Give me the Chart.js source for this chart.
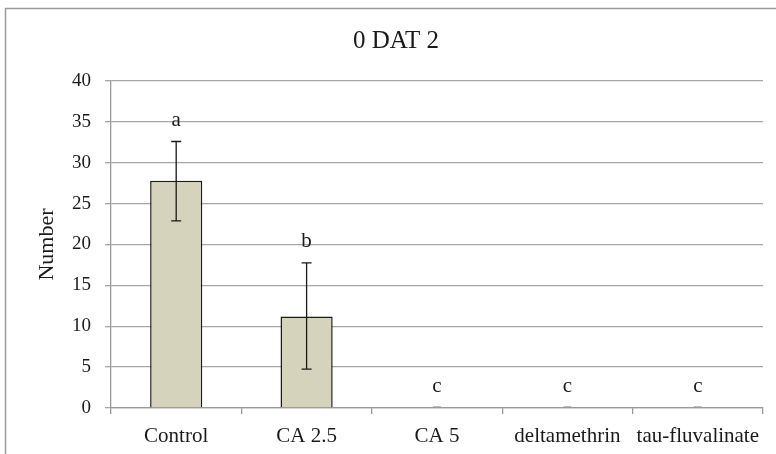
<!DOCTYPE html>
<html>
<head>
<meta charset="utf-8">
<script src="https://cdn.jsdelivr.net/npm/chart.js@4"></script>
<style>
  html, body { margin: 0; padding: 0; background: #fff; }
  #wrap { width: 776px; height: 454px; }
</style>
</head>
<body>
<div id="wrap"><canvas id="chart"></canvas></div>
<script>
const categories = ["Control", "CA 2.5", "CA 5", "deltamethrin", "tau-fluvalinate"];
const means = [27.8, 11.2, 0, 0, 0];
const errLow = [22.9, 4.75, 0, 0, 0];
const errHigh = [32.6, 17.75, 0, 0, 0];
const letters = ["a", "b", "c", "c", "c"];

const serif = "'Liberation Serif', 'Times New Roman', serif";

// grey frame round the chart, cut off at the right and bottom like the original
const framePlugin = {
  id: "frame",
  beforeDraw(chart) {
    const ctx = chart.ctx;
    ctx.save();
    ctx.strokeStyle = "#9a9a9a";
    ctx.lineWidth = 1.5;
    ctx.beginPath();
    ctx.moveTo(5.5, chart.height + 2);
    ctx.lineTo(5.5, 8.5);
    ctx.lineTo(chart.width + 2, 8.5);
    ctx.stroke();
    ctx.restore();
  }
};

// error bars and significance letters
const errorPlugin = {
  id: "errors",
  afterDatasetsDraw(chart) {
    const ctx = chart.ctx;
    const x = chart.scales.x;
    const y = chart.scales.y;
    ctx.save();
    ctx.strokeStyle = "#1a1a1a";
    ctx.lineWidth = 1.3;
    categories.forEach((c, i) => {
      const cx = x.getPixelForValue(i);
      const top = y.getPixelForValue(errHigh[i]);
      const bot = y.getPixelForValue(errLow[i]);
      if (errHigh[i] > errLow[i]) {
        ctx.beginPath();
        ctx.moveTo(cx, top); ctx.lineTo(cx, bot);
        ctx.moveTo(cx - 5, top); ctx.lineTo(cx + 5, top);
        ctx.moveTo(cx - 5, bot); ctx.lineTo(cx + 5, bot);
        ctx.stroke();
      } else {
        // zero bar shows as a short grey dash on the axis
        ctx.save();
        ctx.strokeStyle = "#9a9a9a";
        ctx.beginPath();
        ctx.moveTo(cx - 4, bot - 1); ctx.lineTo(cx + 4, bot - 1);
        ctx.stroke();
        ctx.restore();
      }
      ctx.fillStyle = "#1a1a1a";
      ctx.font = "21px " + serif;
      ctx.textAlign = "center";
      ctx.textBaseline = "bottom";
      ctx.fillText(letters[i], cx, top - 11);
    });
    ctx.restore();
  }
};

new Chart(document.getElementById("chart"), {
  type: "bar",
  data: {
    labels: categories,
    datasets: [{
      data: means,
      backgroundColor: "#d6d3bd",
      borderColor: "#1a1a1a",
      borderWidth: 1.5,
      categoryPercentage: 1,
      barPercentage: 0.4
    }]
  },
  options: {
    responsive: true,
    maintainAspectRatio: false,
    animation: false,
    layout: { padding: { left: 29, right: 13, top: 0, bottom: 0 } },
    plugins: {
      legend: { display: false },
      tooltip: { enabled: false },
      title: {
        display: true,
        text: "0 DAT 2",
        color: "#1a1a1a",
        font: { family: serif, size: 25, weight: "normal" },
        padding: { top: 26, bottom: 25 }
      }
    },
    scales: {
      x: {
        afterFit(scale) { scale.height = 46; },
        grid: {
          offset: true,
          drawOnChartArea: false,
          drawTicks: true,
          tickLength: 6,
          color: "#9a9a9a",
          lineWidth: 1.3
        },
        border: { color: "#9a9a9a", width: 1.3 },
        ticks: {
          color: "#1a1a1a",
          font: { family: serif, size: 21 },
          padding: 10,
          maxRotation: 0,
          autoSkip: false
        }
      },
      y: {
        min: 0,
        max: 40,
        afterFit(scale) { scale.width = 82; },
        grid: {
          color: "#a6a6a6",
          lineWidth: 1.3,
          tickLength: 6
        },
        border: { color: "#9a9a9a", width: 1.3 },
        ticks: {
          stepSize: 5,
          color: "#1a1a1a",
          font: { family: serif, size: 19 },
          padding: 14
        },
        title: {
          display: true,
          text: "Number",
          color: "#1a1a1a",
          font: { family: serif, size: 22 },
          padding: { top: 5, bottom: 0 }
        }
      }
    }
  },
  plugins: [framePlugin, errorPlugin]
});
</script>
</body>
</html>
